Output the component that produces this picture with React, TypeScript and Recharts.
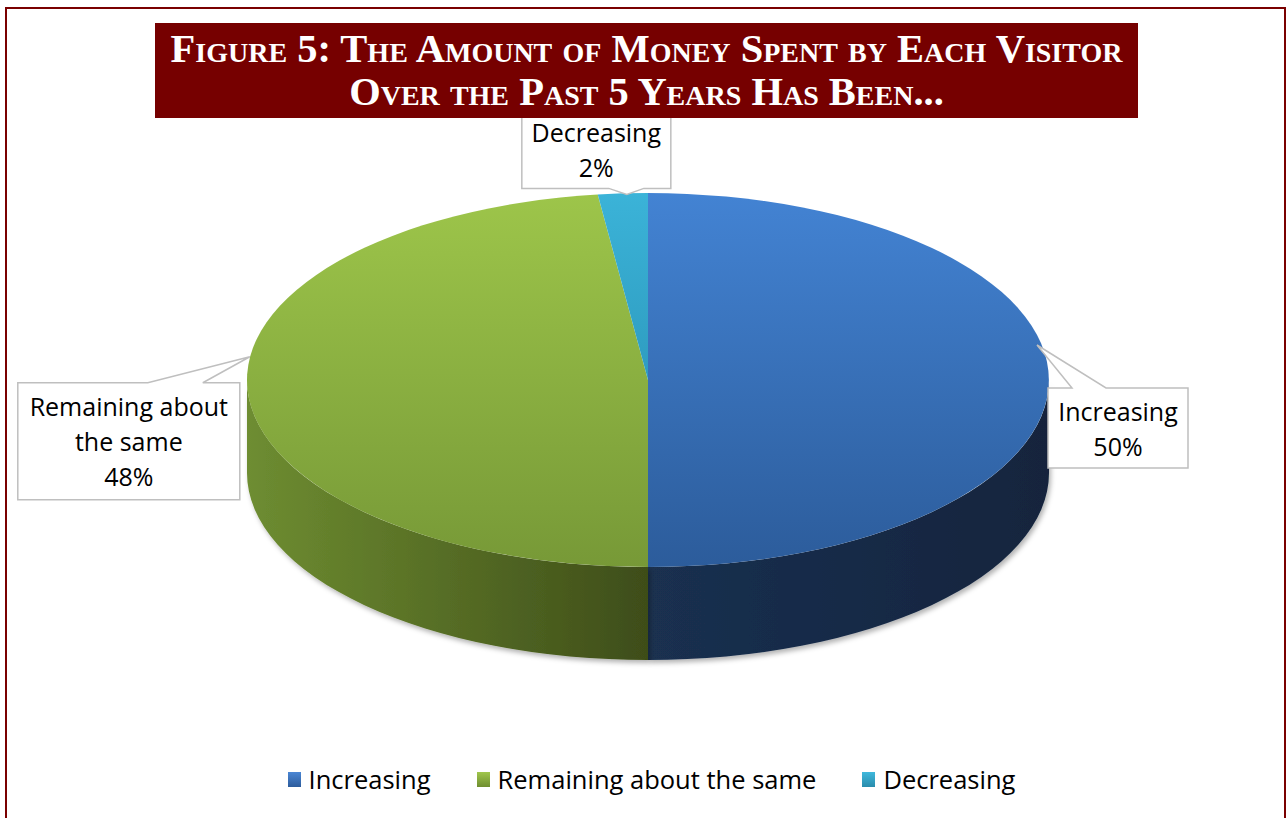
import { PieChart, Pie, Legend } from 'recharts';

const categories = ['Increasing', 'Remaining about the same', 'Decreasing'];
const shares = [50, 48, 2];

const data = categories.map((name, i) => ({ name, value: shares[i] }));

// colours per slice: [light, dark]
const topColors = [['#4383d3', '#2c5c9b'], ['#9dc54a', '#779937'], ['#3bb3d8', '#2e9cc0']];
const sideColors = [['#1a3050', '#13243d'], ['#6e8d31', '#3e4d19'], ['#2a8aa6', '#1e6b82']];
const legendColors = [['#4a86d4', '#2d5c9c'], ['#a0c64c', '#6f8e30'], ['#3fb8dc', '#2a8cac']];

const TILT = 0.4663;
const DEPTH = 93;
const FONT = '"Open Sans", sans-serif';

// callout placement relative to the rim point under each slice's mid angle
const callouts = [
  { lift: [-12, -35], box: [11, 43, 140, 80], base: [35, 69], edge: 'top' },
  { lift: [2, -35], box: [-232, 26, 222, 117], base: [-102, -47], edge: 'top' },
  { lift: [4, 1], box: [-105, -84, 149, 78], base: [-18, 17], edge: 'bottom' },
];

const RAD = Math.PI / 180;

function rim(cx: number, cy: number, r: number, a: number, dy = 0) {
  return [cx + r * Math.cos(a * RAD), cy - r * TILT * Math.sin(a * RAD) + dy];
}

function wrap(text: string, max = 15) {
  const lines: string[] = [];
  let cur = '';
  text.split(' ').forEach((w) => {
    if (cur && (cur + ' ' + w).length > max) {
      lines.push(cur);
      cur = w;
    } else {
      cur = cur ? cur + ' ' + w : w;
    }
  });
  if (cur) lines.push(cur);
  return lines;
}

const renderSide = (props: any) => {
  const { cx, cy, outerRadius: r, startAngle, endAngle, index } = props;
  const lo = Math.min(startAngle, endAngle);
  const hi = Math.max(startAngle, endAngle);
  const ry = r * TILT;
  const parts: string[] = [];
  for (let k = -1; k <= 1; k++) {
    const a = Math.max(lo, -180 + 360 * k);
    const b = Math.min(hi, 360 * k);
    if (b - a <= 0.01) continue;
    const p1 = rim(cx, cy, r, b);
    const p2 = rim(cx, cy, r, a);
    const p3 = rim(cx, cy, r, a, DEPTH);
    const p4 = rim(cx, cy, r, b, DEPTH);
    parts.push(
      `M${p1[0]},${p1[1]} A${r},${ry} 0 0 1 ${p2[0]},${p2[1]} L${p3[0]},${p3[1]} A${r},${ry} 0 0 0 ${p4[0]},${p4[1]} Z`
    );
  }
  return (
    <g>
      {parts.map((d, j) => (
        <path key={j} d={d} fill={`url(#side${index})`} filter="url(#pieShadow)" />
      ))}
    </g>
  );
};

const renderTop = (props: any) => {
  const { cx, cy, outerRadius: r, startAngle, endAngle, index } = props;
  const ry = r * TILT;
  const p0 = rim(cx, cy, r, startAngle);
  const p1 = rim(cx, cy, r, endAngle);
  const large = Math.abs(endAngle - startAngle) > 180 ? 1 : 0;
  const sweep = endAngle < startAngle ? 1 : 0;
  const d = `M${cx},${cy} L${p0[0]},${p0[1]} A${r},${ry} 0 ${large} ${sweep} ${p1[0]},${p1[1]} Z`;
  return <path d={d} fill={`url(#top${index})`} />;
};

const renderCallout = (props: any) => {
  const { cx, cy, outerRadius: r, midAngle, index, name, percent } = props;
  const c = callouts[index];
  const anchor = rim(cx, cy, r, midAngle);
  const tx = anchor[0] + c.lift[0];
  const ty = anchor[1] + c.lift[1];
  const x = tx + c.box[0];
  const y = ty + c.box[1];
  const w = c.box[2];
  const h = c.box[3];
  const b1 = tx + c.base[0];
  const b2 = tx + c.base[1];
  const d =
    c.edge === 'top'
      ? `M${x},${y} L${b1},${y} L${tx},${ty} L${b2},${y} L${x + w},${y} L${x + w},${y + h} L${x},${y + h} Z`
      : `M${x},${y} L${x + w},${y} L${x + w},${y + h} L${b2},${y + h} L${tx},${ty} L${b1},${y + h} L${x},${y + h} Z`;
  const lines = [...wrap(name), `${Math.round(percent * 100)}%`];
  const lh = 35;
  const first = y + h / 2 - ((lines.length - 1) * lh) / 2;
  return (
    <g>
      <path d={d} fill="#fff" stroke="#bfbfbf" strokeWidth={1.5} />
      {lines.map((t, j) => (
        <text
          key={j}
          x={x + w / 2}
          y={first + j * lh}
          textAnchor="middle"
          dominantBaseline="central"
          fontFamily={FONT}
          fontSize={25}
          fill="#000"
        >
          {t}
        </text>
      ))}
    </g>
  );
};

const renderLegend = () => (
  <div
    style={{
      display: 'flex',
      justifyContent: 'center',
      gap: 46,
      paddingLeft: 16,
      fontFamily: FONT,
      fontSize: 25.5,
    }}
  >
    {categories.map((name, i) => (
      <div key={name} style={{ display: 'flex', alignItems: 'center' }}>
        <svg width={13} height={15} style={{ marginRight: 8 }}>
          <rect width={13} height={15} fill={`url(#leg${i})`} />
        </svg>
        <span style={{ color: '#000' }}>{name}</span>
      </div>
    ))}
  </div>
);

export default function App() {
  const pieProps = {
    data,
    dataKey: 'value',
    nameKey: 'name',
    cx: 648,
    cy: 380,
    outerRadius: 401,
    startAngle: 90,
    endAngle: -270,
    fill: 'none',
    stroke: 'none',
    isAnimationActive: false,
    labelLine: false,
  };

  return (
    <div style={{ position: 'relative', width: 1287, height: 818, overflow: 'hidden', background: '#fff' }}>
      <style>{`body{margin:0}`}</style>
      <svg width={0} height={0} style={{ position: 'absolute' }}>
        <defs>
          {topColors.map((c, i) => (
            <linearGradient key={`t${i}`} id={`top${i}`} x1="0" y1="0" x2="0" y2="1">
              <stop offset="0" stopColor={c[0]} />
              <stop offset="1" stopColor={c[1]} />
            </linearGradient>
          ))}
          {sideColors.map((c, i) => (
            <linearGradient key={`s${i}`} id={`side${i}`} x1="0" y1="0" x2="1" y2="0">
              <stop offset="0" stopColor={c[0]} />
              <stop offset="1" stopColor={c[1]} />
            </linearGradient>
          ))}
          {legendColors.map((c, i) => (
            <linearGradient key={`l${i}`} id={`leg${i}`} x1="0" y1="0" x2="0" y2="1">
              <stop offset="0" stopColor={c[0]} />
              <stop offset="1" stopColor={c[1]} />
            </linearGradient>
          ))}
          <filter id="pieShadow" x="-10%" y="-10%" width="120%" height="140%">
            <feDropShadow dx="2" dy="3" stdDeviation="2.5" floodColor="#000" floodOpacity="0.3" />
          </filter>
        </defs>
      </svg>

      <PieChart width={1287} height={818} margin={{ top: 0, right: 0, bottom: 0, left: 0 }}>
        <Pie {...pieProps} label={renderSide} />
        <Pie {...pieProps} label={renderTop} />
        <Pie {...pieProps} label={renderCallout} />
        <Legend content={renderLegend} wrapperStyle={{ top: 762, left: 0, width: 1287 }} />
      </PieChart>

      <div
        style={{
          position: 'absolute',
          left: 155,
          top: 23,
          width: 983,
          height: 95,
          background: '#760000',
          color: '#fff',
          fontFamily: '"Liberation Serif", serif',
          fontWeight: 'bold',
          fontVariant: 'small-caps',
          fontSize: 40.5,
          lineHeight: '43px',
          textAlign: 'center',
          paddingTop: 4,
          boxSizing: 'border-box',
          whiteSpace: 'nowrap',
        }}
      >
        Figure 5: The Amount of Money Spent by Each Visitor
        <br />
        Over the Past 5 Years Has Been...
      </div>

      <div
        style={{
          position: 'absolute',
          left: 5,
          top: 7,
          width: 1281,
          height: 900,
          border: '2px solid #7a0000',
          boxSizing: 'border-box',
          pointerEvents: 'none',
        }}
      />
    </div>
  );
}
